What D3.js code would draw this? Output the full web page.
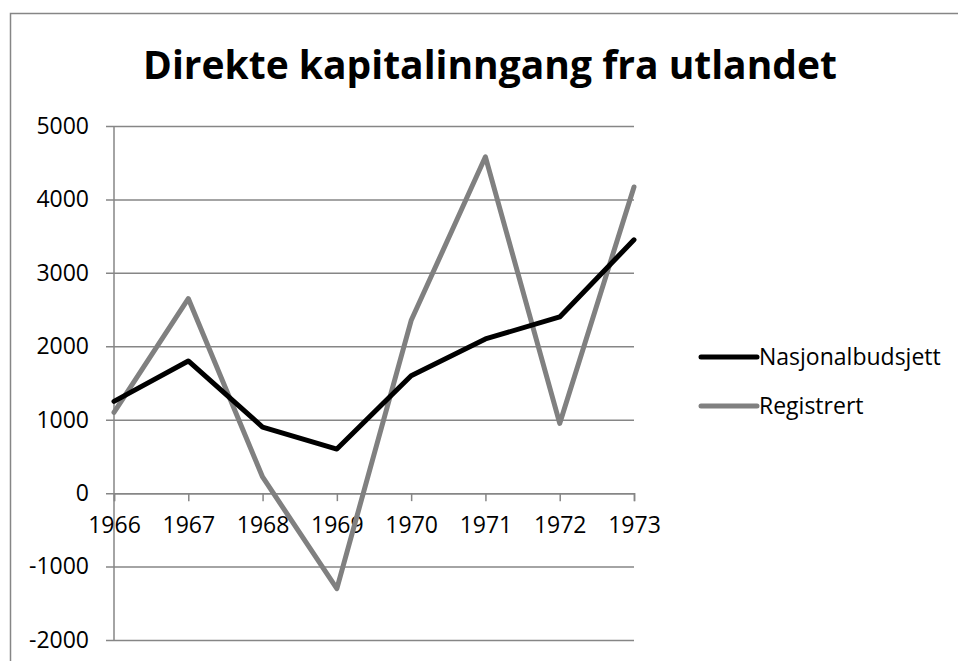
<!DOCTYPE html>
<html>
<head>
<meta charset="utf-8">
<script src="https://cdn.jsdelivr.net/npm/d3@7"></script>
<style>
  body { margin: 0; background: #fff; }
  text { font-family: "Open Sans", "Noto Sans", sans-serif; }
</style>
</head>
<body>
<div id="chart"></div>
<script>
var years = ["1966", "1967", "1968", "1969", "1970", "1971", "1972", "1973"];
var nasjonalbudsjett = [1250, 1800, 900, 600, 1600, 2100, 2400, 3450];
var registrert = [1100, 2650, 220, -1300, 2350, 4580, 950, 4170];
var yTicks = [-2000, -1000, 0, 1000, 2000, 3000, 4000, 5000];

var series = [
    {name: "Nasjonalbudsjett", values: nasjonalbudsjett, color: "#000000"},
    {name: "Registrert", values: registrert, color: "#808080"}
];

var W = 958, H = 661;
var margin = {top: 126, left: 114},
    width = 634 - margin.left,
    height = 640 - margin.top;

var svg = d3.select("#chart").append("svg")
    .attr("width", W)
    .attr("height", H);

// outer chart border (runs off the picture at right and bottom)
svg.append("rect")
    .attr("x", 10.5).attr("y", 13.5)
    .attr("width", 1000).attr("height", 700)
    .attr("fill", "none")
    .attr("stroke", "#868686")
    .attr("stroke-width", 1.5);

svg.append("text")
    .attr("x", 490)
    .attr("y", 79)
    .attr("text-anchor", "middle")
    .style("font-size", "39px")
    .style("font-weight", "bold")
    .text("Direkte kapitalinngang fra utlandet");

var g = svg.append("g")
    .attr("transform", "translate(" + margin.left + "," + margin.top + ")");

var x = d3.scalePoint()
    .domain(years)
    .range([0, width]);

var y = d3.scaleLinear()
    .domain([-2000, 5000])
    .range([height, 0]);

// gridlines + y axis
var yAxis = g.append("g")
    .call(d3.axisLeft(y).tickValues(yTicks).tickSize(-width).tickPadding(25)
        .tickFormat(function(d) { return String(d); }));
yAxis.select(".domain").remove();
yAxis.selectAll(".tick line")
    .attr("x1", -8)
    .attr("stroke", "#868686")
    .attr("stroke-width", 1.5);
yAxis.selectAll(".tick text")
    .style("font-size", "23px")
    .attr("fill", "#000")
    .attr("font-family", null);

g.append("line")
    .attr("x1", 0).attr("x2", 0)
    .attr("y1", 0).attr("y2", height)
    .attr("stroke", "#868686")
    .attr("stroke-width", 1.5);

// x axis at zero
var xAxis = g.append("g")
    .attr("transform", "translate(0," + y(0) + ")")
    .call(d3.axisBottom(x).tickSize(8).tickPadding(16));
xAxis.select(".domain")
    .attr("stroke", "#868686")
    .attr("stroke-width", 1.5);
xAxis.selectAll(".tick line")
    .attr("stroke", "#868686")
    .attr("stroke-width", 1.5);
xAxis.selectAll(".tick text")
    .style("font-size", "23px")
    .attr("fill", "#000")
    .attr("font-family", null);

var line = d3.line()
    .x(function(d, i) { return x(years[i]); })
    .y(function(d) { return y(d); });

// Registrert drawn first, black line on top of it
series.slice().reverse().forEach(function(s) {
    g.append("path")
        .datum(s.values)
        .attr("fill", "none")
        .attr("stroke", s.color)
        .attr("stroke-width", 5)
        .attr("stroke-linejoin", "round")
        .attr("stroke-linecap", "round")
        .attr("d", line);
});

var legend = svg.append("g")
    .attr("transform", "translate(701,357)");

series.forEach(function(s, i) {
    var row = legend.append("g")
        .attr("transform", "translate(0," + (i * 49) + ")");
    row.append("line")
        .attr("x1", 0).attr("x2", 56)
        .attr("stroke", s.color)
        .attr("stroke-width", 5)
        .attr("stroke-linecap", "round");
    row.append("text")
        .attr("x", 58)
        .attr("dy", "0.35em")
        .style("font-size", "23px")
        .text(s.name);
});
</script>
</body>
</html>
